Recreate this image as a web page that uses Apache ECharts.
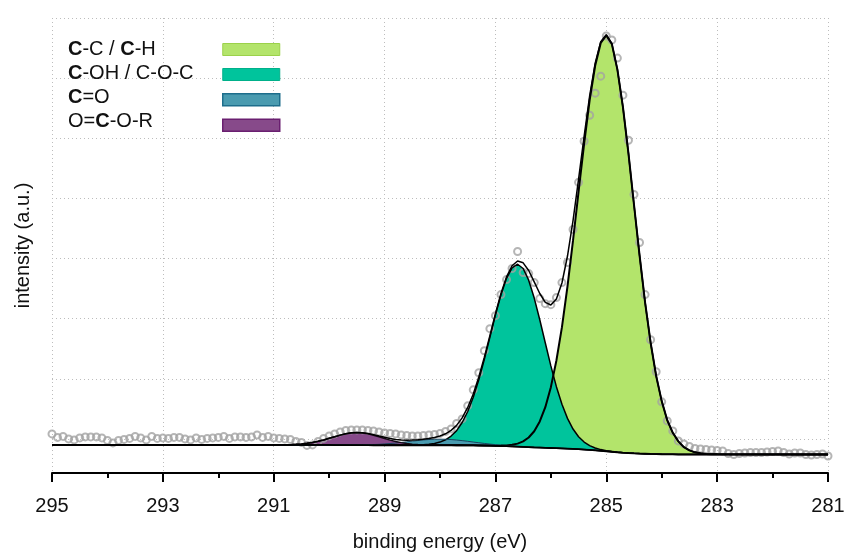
<!DOCTYPE html>
<html><head><meta charset="utf-8">
<script src="https://cdn.jsdelivr.net/npm/echarts/dist/echarts.min.js"></script>
<style>html,body{margin:0;padding:0;background:#fff}#c{width:849px;height:554px}</style>
</head><body><div id="c"></div>
<script>
// ---- measured spectrum (binding energy in eV, intensity in arbitrary units) ----
const rawEnergy = [
 295.0,294.9,294.8,294.7,294.6,294.5,294.4,294.3,294.2,294.1,
 294.0,293.9,293.8,293.7,293.6,293.5,293.4,293.3,293.2,293.1,
 293.0,292.9,292.8,292.7,292.6,292.5,292.4,292.3,292.2,292.1,
 292.0,291.9,291.8,291.7,291.6,291.5,291.4,291.3,291.2,291.1,
 291.0,290.9,290.8,290.7,290.6,290.5,290.4,290.3,290.2,290.1,
 290.0,289.9,289.8,289.7,289.6,289.5,289.4,289.3,289.2,289.1,
 289.0,288.9,288.8,288.7,288.6,288.5,288.4,288.3,288.2,288.1,
 288.0,287.9,287.8,287.7,287.6,287.5,287.4,287.3,287.2,287.1,
 287.0,286.9,286.8,286.7,286.6,286.5,286.4,286.3,286.2,286.1,
 286.0,285.9,285.8,285.7,285.6,285.5,285.4,285.3,285.2,285.1,
 285.0,284.9,284.8,284.7,284.6,284.5,284.4,284.3,284.2,284.1,
 284.0,283.9,283.8,283.7,283.6,283.5,283.4,283.3,283.2,283.1,
 283.0,282.9,282.8,282.7,282.6,282.5,282.4,282.3,282.2,282.1,
 282.0,281.9,281.8,281.7,281.6,281.5,281.4,281.3,281.2,281.1,
 281.0];
const rawIntensity = [
 5,1.5,2.5,0,-1,1,2,2,2,1,
 -1.5,-4,-1.5,-0.5,0.5,2.5,1,-1,2.5,0.5,
 1,0.5,1.5,1.5,0,-1,1,-0.5,0.5,1,
 1.5,2.5,0.5,2,2,1.5,2,4,1.5,2.5,
 1,0.5,0,-0.5,-2.5,-3.5,-6.5,-6,-2.5,0.5,
 3,5,7,8.5,9,9,9,8.5,8,7,
 6,5.5,5,4,3.5,3,3,3.5,4,4.5,
 5.5,7.5,10,15.5,20,33,49,66,88,110,
 123,144,159,170,187,166,165,156,140,135,
 134,141,156,176,209,256,297,323,345,362,
 402,398,380,343,298,244,196,144,99,67,
 37,18,8,-2,-5,-7.5,-9.5,-10,-10.5,-11,
 -11.5,-12,-14.5,-15.5,-14.5,-14,-13.5,-13.5,-13.5,-13,
 -12.5,-12,-13.5,-15,-14,-14,-15.5,-16,-15.5,-15,
 -17];

// ---- peak fit: every curve is given as absolute intensity on the same energy grid ----
const fitEnergy = [
 295.0,
 291.0,290.9,290.8,290.7,290.6,290.5,290.4,290.3,290.2,290.1,
 290.0,289.9,289.8,289.7,289.6,289.5,289.4,289.3,289.2,289.1,
 289.0,288.9,288.8,288.7,288.6,288.5,288.4,288.3,288.2,288.1,
 288.0,287.9,287.8,287.7,287.6,287.5,287.4,287.3,287.2,287.1,
 287.0,286.9,286.8,286.7,286.6,286.5,286.4,286.3,286.2,286.1,
 286.0,285.9,285.8,285.7,285.6,285.5,285.4,285.3,285.2,285.1,
 285.0,284.9,284.8,284.7,284.6,284.5,284.4,284.3,284.2,284.1,
 284.0,283.9,283.8,283.7,283.6,283.5,283.4,283.3,283.2,283.1,
 283.0,
 281.0];
const background = [
 -6.0,
 -6.0,-6.0,-6.0,-6.0,-6.0,-6.0,-6.0,-6.0,-6.0,-6.0,
 -6.0,-6.1,-6.1,-6.1,-6.1,-6.1,-6.1,-6.1,-6.2,-6.2,
 -6.2,-6.2,-6.2,-6.2,-6.2,-6.2,-6.2,-6.2,-6.2,-6.2,
 -6.25,-6.25,-6.25,-6.3,-6.3,-6.35,-6.4,-6.5,-6.6,-6.75,
 -6.9,-7.05,-7.25,-7.45,-7.7,-7.95,-8.2,-8.45,-8.65,-8.85,
 -9.05,-9.25,-9.45,-9.7,-9.95,-10.25,-10.6,-11.0,-11.4,-11.85,
 -12.3,-12.8,-13.3,-13.7,-14.05,-14.35,-14.6,-14.8,-15.0,-15.15,
 -15.3,-15.35,-15.4,-15.45,-15.5,-15.5,-15.5,-15.5,-15.5,-15.5,
 -15.5,
 -15.5];
const peakCC = [
 -6.0,
 -6.0,-6.0,-6.0,-6.0,-6.0,-6.0,-6.0,-6.0,-6.0,-6.0,
 -6.0,-6.1,-6.1,-6.1,-6.1,-6.1,-6.1,-6.1,-6.2,-6.2,
 -6.2,-6.2,-6.2,-6.2,-6.2,-6.2,-6.2,-6.2,-6.2,-6.2,
 -6.25,-6.25,-6.25,-6.3,-6.3,-6.35,-6.4,-6.5,-6.6,-6.65,
 -6.7,-6.65,-6.45,-5.85,-4.7,-2.45,1.4,7.65,17.45,31.65,
 51.65,78.25,111.55,152.3,198.05,246.75,294.4,338.0,372.6,395.15,
 402.7,394.2,368.7,331.3,284.95,233.65,183.4,136.2,96.0,62.85,
 37.7,18.65,6.1,-2.45,-8.2,-11.4,-13.4,-14.4,-15.0,-15.3,
 -15.4,
 -15.5];
const peakCOH = [
 -6.0,
 -6.0,-6.0,-6.0,-6.0,-6.0,-6.0,-6.0,-6.0,-6.0,-6.0,
 -6.0,-6.1,-6.1,-6.1,-6.1,-6.1,-6.1,-6.1,-6.2,-6.2,
 -6.2,-6.2,-6.2,-6.2,-6.2,-6.1,-6.0,-5.8,-5.3,-4.5,
 -3.15,-0.85,2.85,8.3,16.4,27.35,41.6,59.1,79.4,101.35,
 123.5,143.85,160.25,170.75,174.3,170.05,158.4,140.55,118.95,95.75,
 72.85,52.15,34.55,20.5,9.85,2.15,-3.1,-6.7,-9.0,-10.65,
 -11.7,-12.5,-13.2,-13.7,-14.05,-14.35,-14.6,-14.8,-15.0,-15.15,
 -15.3,-15.35,-15.4,-15.45,-15.5,-15.5,-15.5,-15.5,-15.5,-15.5,
 -15.5,
 -15.5];
const peakCO = [
 -6.0,
 -6.0,-6.0,-6.0,-6.0,-6.0,-6.0,-6.0,-6.0,-6.0,-6.0,
 -6.0,-6.1,-6.1,-6.1,-6.0,-6.0,-5.9,-5.7,-5.6,-5.4,
 -5.0,-4.6,-4.1,-3.5,-2.9,-2.2,-1.6,-1.0,-0.6,-0.3,
 -0.25,-0.35,-0.65,-1.1,-1.7,-2.35,-3.1,-3.8,-4.5,-5.15,
 -5.7,-6.25,-6.65,-7.05,-7.5,-7.85,-8.1,-8.45,-8.65,-8.85,
 -9.05,-9.25,-9.45,-9.7,-9.95,-10.25,-10.6,-11.0,-11.4,-11.85,
 -12.3,-12.8,-13.3,-13.7,-14.05,-14.35,-14.6,-14.8,-15.0,-15.15,
 -15.3,-15.35,-15.4,-15.45,-15.5,-15.5,-15.5,-15.5,-15.5,-15.5,
 -15.5,
 -15.5];
const peakOCOR = [
 -6.0,
 -6.0,-5.9,-5.8,-5.7,-5.4,-5.0,-4.4,-3.5,-2.4,-1.0,
 0.6,2.2,3.8,5.1,6.0,6.3,6.0,5.1,3.7,2.1,
 0.4,-1.2,-2.6,-3.7,-4.6,-5.2,-5.6,-5.9,-6.0,-6.1,
 -6.25,-6.25,-6.25,-6.3,-6.3,-6.35,-6.4,-6.5,-6.6,-6.75,
 -6.9,-7.05,-7.25,-7.45,-7.7,-7.95,-8.2,-8.45,-8.65,-8.85,
 -9.05,-9.25,-9.45,-9.7,-9.95,-10.25,-10.6,-11.0,-11.4,-11.85,
 -12.3,-12.8,-13.3,-13.7,-14.05,-14.35,-14.6,-14.8,-15.0,-15.15,
 -15.3,-15.35,-15.4,-15.45,-15.5,-15.5,-15.5,-15.5,-15.5,-15.5,
 -15.5,
 -15.5];
const envelope = [
 -6.0,
 -6.0,-5.9,-5.8,-5.7,-5.4,-5.0,-4.4,-3.5,-2.4,-1.0,
 0.6,2.2,3.8,5.1,6.1,6.4,6.2,5.5,4.3,2.9,
 1.6,0.4,-0.5,-1.0,-1.3,-1.1,-0.8,-0.3,0.5,1.5,
 2.9,5.1,8.5,13.5,21.0,31.4,44.9,61.8,81.5,103.1,
 124.9,145.1,161.7,172.8,177.5,175.7,168.1,156.7,145.1,136.3,
 133.6,139.7,155.6,182.5,217.9,259.2,301.9,342.3,375.0,396.4,
 403.3,394.5,368.8,331.3,285.0,233.7,183.4,136.2,96.0,62.9,
 37.7,18.7,6.1,-2.5,-8.2,-11.4,-13.4,-14.4,-15.0,-15.3,
 -15.4,
 -15.5];

const legendNames = ['C-C / C-H', 'C-OH / C-O-C', 'C=O', 'O=C-O-R'];
const legendRich = {
  'C-C / C-H': '{b|C}{n|-C / }{b|C}{n|-H}',
  'C-OH / C-O-C': '{b|C}{n|-OH / C-O-C}',
  'C=O': '{b|C}{n|=O}',
  'O=C-O-R': '{n|O=}{b|C}{n|-O-R}'
};
const xMin = 281, xMax = 295, xStep = 2;

const FONT = '"Liberation Sans", Arial, sans-serif';
const pairs = (xs, ys) => xs.map((x, i) => [x, ys[i]]);

const comps = [
  {name: legendNames[0], data: peakCC, fill: '#b3e46b', blend: 'darken', op: 1, line: '#000', lw: 2},
  {name: legendNames[1], data: peakCOH, fill: '#00c49c', blend: 'darken', op: 1, line: '#000', lw: 1.5},
  {name: legendNames[2], data: peakCO, fill: '#4a9bb0', blend: 'source-over', op: 1, line: '#17445e', lw: 1},
  {name: legendNames[3], data: peakOCOR, fill: '#874a8a', blend: 'source-over', op: 1, line: '#140814', lw: 1.5}
];

// filled band between a component curve and the background, placed with the axes' own coord()
function bandSeries(c) {
  return {
    type: 'custom', silent: true,
    data: fitEnergy.map((e, i) => [e, c.data[i], background[i]]),
    encode: {x: 0, y: [1, 2]},
    renderItem: (params, api) => {
      if (params.dataIndex !== 0) return null;
      const top = fitEnergy.map((e, i) => api.coord([e, c.data[i]]));
      const bottom = fitEnergy.map((e, i) => api.coord([e, background[i]])).reverse();
      return {
        type: 'polygon',
        shape: {points: top.concat(bottom)},
        style: {fill: c.fill, opacity: c.op, blend: c.blend, stroke: null}
      };
    }
  };
}

const series = [];
series.push({
  type: 'scatter', data: pairs(rawEnergy, rawIntensity), symbol: 'circle', symbolSize: 7,
  itemStyle: {color: 'rgba(255,255,255,0)', borderColor: '#a2a2a2', borderWidth: 2},
  silent: true
});
comps.forEach(c => {
  series.push(bandSeries(c));
  series.push({
    type: 'line', name: c.name, data: pairs(fitEnergy, c.data), symbol: 'none',
    lineStyle: {color: c.line, width: c.lw}, itemStyle: {color: c.fill}, silent: true
  });
});
series.push({
  type: 'line', data: pairs(fitEnergy, background), symbol: 'none',
  lineStyle: {color: '#000', width: 1.8}, silent: true
});
series.push({
  type: 'line', data: pairs(fitEnergy, envelope), symbol: 'none',
  lineStyle: {color: '#000', width: 1.5}, silent: true
});

const legendSwatches = [
  {name: legendNames[0], itemStyle: {color: '#b3e46b', borderColor: '#9bd14a', borderWidth: 1}},
  {name: legendNames[1], itemStyle: {color: '#00c49c', borderColor: '#00b08a', borderWidth: 1}},
  {name: legendNames[2], itemStyle: {color: '#4a9bb0', borderColor: '#1e6e8c', borderWidth: 1.5}},
  {name: legendNames[3], itemStyle: {color: '#874a8a', borderColor: '#6a1f70', borderWidth: 1.5}}
];

const chart = echarts.init(document.getElementById('c'), null, {renderer: 'canvas'});
chart.setOption({
  animation: false,
  backgroundColor: '#fff',
  grid: {left: 52, right: 21, top: 18, bottom: 81, containLabel: false, outerBoundsMode: 'none'},
  legend: [
    {
      orient: 'vertical', left: 222, top: 43, padding: 0, itemWidth: 57, itemHeight: 12, itemGap: 12,
      icon: 'rect', selectedMode: false, data: legendSwatches,
      formatter: () => '', textStyle: {fontSize: 1}
    },
    {
      orient: 'vertical', left: 62, top: 37, padding: 0, itemWidth: 1, itemHeight: 1, itemGap: 0,
      icon: 'rect', selectedMode: false, data: legendNames,
      itemStyle: {opacity: 0},
      formatter: name => legendRich[name],
      textStyle: {
        fontSize: 20, lineHeight: 24, color: '#111', fontFamily: FONT,
        rich: {
          b: {fontSize: 20, lineHeight: 24, fontWeight: 'bold', color: '#111', fontFamily: FONT},
          n: {fontSize: 20, lineHeight: 24, color: '#111', fontFamily: FONT}
        }
      }
    }
  ],
  xAxis: {
    type: 'value', min: xMin, max: xMax, interval: xStep, inverse: true,
    name: 'binding energy (eV)', nameLocation: 'middle', nameGap: 59,
    nameTextStyle: {fontSize: 20, color: '#111', fontFamily: FONT},
    axisLine: {onZero: false, lineStyle: {color: '#000', width: 2}},
    axisTick: {length: 9, lineStyle: {color: '#000', width: 2}},
    minorTick: {show: true, splitNumber: 2, length: 5, lineStyle: {color: '#000', width: 2}},
    axisLabel: {fontSize: 20, color: '#111', margin: 23, fontFamily: FONT},
    splitLine: {show: true, lineStyle: {type: [1, 3], color: '#bdbdbd', width: 1}}
  },
  yAxis: {
    type: 'value', min: -34, max: 420, minInterval: 60, maxInterval: 60,
    name: 'intensity (a.u.)', nameLocation: 'middle', nameGap: 19,
    nameTextStyle: {fontSize: 20, color: '#111', fontFamily: FONT},
    axisLine: {show: false}, axisTick: {show: false}, axisLabel: {show: false},
    splitLine: {show: true, lineStyle: {type: [1, 3], color: '#bdbdbd', width: 1}}
  },
  series: series
});
</script>
</body></html>
